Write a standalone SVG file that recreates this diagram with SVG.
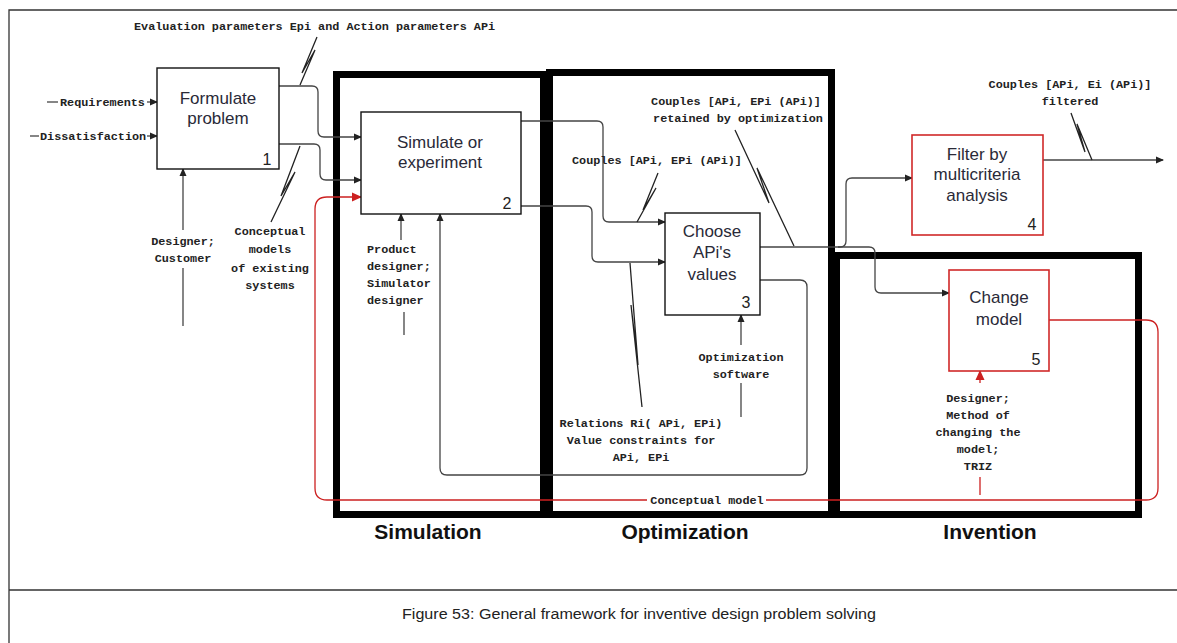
<svg xmlns="http://www.w3.org/2000/svg" width="1177" height="643" viewBox="0 0 1177 643">
<defs>
<marker id="ah" markerWidth="8" markerHeight="8" refX="7" refY="4" orient="auto" markerUnits="userSpaceOnUse"><path d="M0,0.5 L8,4 L0,7.5 Z" fill="#222"/></marker>
<marker id="ahr" markerWidth="10" markerHeight="10" refX="9" refY="5" orient="auto" markerUnits="userSpaceOnUse"><path d="M0,0.5 L10,5 L0,9.5 Z" fill="#cc2020"/></marker>
<style>
.frame{fill:none;stroke:#333;stroke-width:1.3}
.phase{fill:none;stroke:#000;stroke-width:7}
.box{fill:#fff;stroke:#111;stroke-width:1.4}
.rbox{fill:#fff;stroke:#d02828;stroke-width:1.6}
.c{fill:none;stroke:#444;stroke-width:1.3}
.r{fill:none;stroke:#cc2020;stroke-width:1.3}
.sq{fill:none;stroke:#222;stroke-width:1.3;stroke-linejoin:miter}
.t{font-family:"Liberation Sans",Arial,sans-serif;font-size:17px;fill:#2a2a38;text-anchor:middle}
.n{font-family:"Liberation Sans",Arial,sans-serif;font-size:16px;fill:#222;text-anchor:middle}
.l{font-family:"Liberation Mono","Courier New",monospace;font-size:11.8px;font-weight:bold;fill:#222}
.m{text-anchor:middle}
.ph{font-family:"Liberation Sans",Arial,sans-serif;font-size:21px;font-weight:bold;fill:#111;text-anchor:middle}
.cap{font-family:"Liberation Sans",Arial,sans-serif;font-size:15.5px;fill:#222;text-anchor:middle}
</style>
</defs>
<rect width="1177" height="643" fill="#fff"/>
<g id="frame">
<path class="frame" d="M1177,10 L9,10 L9,643 M9,590 L1177,590"/>
</g>
<g id="phases">
<rect class="phase" x="336.5" y="74.5" width="207" height="440"/>
<rect class="phase" x="549.5" y="72.5" width="282" height="442"/>
<rect class="phase" x="836.5" y="255.5" width="302" height="259"/>
<text class="ph" x="428" y="539">Simulation</text>
<text class="ph" x="685" y="539">Optimization</text>
<text class="ph" x="990" y="539">Invention</text>
</g>
<g id="connectors">
<path class="c" d="M47,102 L58,102"/>
<path class="c" d="M147,102 L157,102" marker-end="url(#ah)"/>
<path class="c" d="M30,136 L39,136"/>
<path class="c" d="M147,136 L157,136" marker-end="url(#ah)"/>
<path class="c" d="M279,86 L312,86 Q318,86 318,92 L318,131 Q318,137 324,137 L361,137" marker-end="url(#ah)"/>
<path class="c" d="M279,144 L314,144 Q320,144 320,150 L320,174 Q320,180 326,180 L361,180" marker-end="url(#ah)"/>
<path class="c" d="M183,230 L183,169" marker-end="url(#ah)"/>
<path class="c" d="M183,268 L183,326"/>
<path class="c" d="M401,240 L401,214" marker-end="url(#ah)"/>
<path class="c" d="M404,312 L404,335"/>
<path class="c" d="M521,121 L597,121 Q603,121 603,127 L603,216 Q603,222 609,222 L665,222" marker-end="url(#ah)"/>
<path class="c" d="M521,206 L586,206 Q592,206 592,212 L592,256 Q592,262 598,262 L665,262" marker-end="url(#ah)"/>
<path class="c" d="M760,247 L840,247 Q846,247 846,241 L846,184 Q846,178 852,178 L912,178" marker-end="url(#ah)"/>
<path class="c" d="M838,247 L869,247 Q875,247 875,253 L875,287 Q875,293 881,293 L949,293" marker-end="url(#ah)"/>
<path class="c" d="M760,280 L800,280 Q807,280 807,287 L807,468 Q807,475 800,475 L447,475 Q440,475 440,468 L440,214" marker-end="url(#ah)"/>
<path class="c" d="M741,345 L741,315" marker-end="url(#ah)"/>
<path class="c" d="M741,383 L741,417"/>
<path class="c" d="M1043,160 L1163,160" marker-end="url(#ah)"/>
<path class="r" d="M980,383 L980,371" marker-end="url(#ahr)"/>
<path class="r" d="M980,477 L980,495"/>
<path class="r" d="M1049,320 L1146,320 Q1158,320 1158,332 L1158,488 Q1158,500 1146,500 L766,500"/>
<path class="r" d="M647,500 L327,500 Q315,500 315,488 L315,209 Q315,197 327,197 L361,197" marker-end="url(#ahr)"/>
<path class="sq" d="M317,37 L302,73 L315,50 L300,85"/>
<path class="sq" d="M300,146 L281,196 L295,172 L271,222"/>
<path class="sq" d="M658,173 L643,210 L656,188 L637,222"/>
<path class="sq" d="M735,130 L769,203 L757,168 L794,246"/>
<path class="sq" d="M1071,113 L1085,152 L1077,124 L1092,160"/>
<path class="sq" d="M630,263 L638,365 L631,305 L642,407"/>
</g>
<g id="labels">
<text class="l" x="134" y="30">Evaluation parameters Epi and Action parameters APi</text>
<text class="l" x="60" y="106">Requirements</text>
<text class="l" x="40" y="140">Dissatisfaction</text>
<text class="l m" x="183" y="245">Designer;</text>
<text class="l m" x="183" y="262">Customer</text>
<text class="l m" x="270" y="235">Conceptual</text>
<text class="l m" x="270" y="253">models</text>
<text class="l m" x="270" y="272">of existing</text>
<text class="l m" x="270" y="289">systems</text>
<text class="l" x="367" y="253">Product</text>
<text class="l" x="367" y="270">designer;</text>
<text class="l" x="367" y="287">Simulator</text>
<text class="l" x="367" y="304">designer</text>
<text class="l" x="572" y="164">Couples [APi, EPi (APi)]</text>
<text class="l m" x="736" y="105">Couples [APi, EPi (APi)]</text>
<text class="l m" x="738" y="122">retained by optimization</text>
<text class="l m" x="1070" y="88">Couples [APi, Ei (APi)]</text>
<text class="l m" x="1070" y="105">filtered</text>
<text class="l m" x="641" y="427">Relations Ri( APi, EPi)</text>
<text class="l m" x="641" y="444">Value constraints for</text>
<text class="l m" x="641" y="461">APi, EPi</text>
<text class="l m" x="741" y="361">Optimization</text>
<text class="l m" x="741" y="378">software</text>
<text class="l m" x="978" y="402">Designer;</text>
<text class="l m" x="978" y="419">Method of</text>
<text class="l m" x="978" y="436">changing the</text>
<text class="l m" x="978" y="453">model;</text>
<text class="l m" x="978" y="470">TRIZ</text>
<text class="l m" x="707" y="504">Conceptual model</text>
</g>
<g id="node1">
<rect class="box" x="157" y="68" width="122" height="101"/>
<text class="t" x="218" y="104">Formulate</text>
<text class="t" x="218" y="124">problem</text>
<text class="n" x="267" y="165">1</text>
</g>
<g id="node2">
<rect class="box" x="361" y="112" width="160" height="102"/>
<text class="t" x="440" y="148">Simulate or</text>
<text class="t" x="440" y="168">experiment</text>
<text class="n" x="507" y="209">2</text>
</g>
<g id="node3">
<rect class="box" x="665" y="213" width="95" height="102"/>
<text class="t" x="712" y="237">Choose</text>
<text class="t" x="712" y="258">APi's</text>
<text class="t" x="712" y="280">values</text>
<text class="n" x="746" y="308">3</text>
</g>
<g id="node4">
<rect class="rbox" x="912" y="135" width="131" height="100"/>
<text class="t" x="977" y="160">Filter by</text>
<text class="t" x="977" y="180">multicriteria</text>
<text class="t" x="977" y="201">analysis</text>
<text class="n" x="1032" y="230">4</text>
</g>
<g id="node5">
<rect class="rbox" x="949" y="270" width="100" height="101"/>
<text class="t" x="999" y="303">Change</text>
<text class="t" x="999" y="325">model</text>
<text class="n" x="1036" y="365">5</text>
</g>
<g id="caption">
<text class="cap" x="639" y="619" textLength="474" lengthAdjust="spacingAndGlyphs">Figure 53: General framework for inventive design problem solving</text>
</g>
</svg>
